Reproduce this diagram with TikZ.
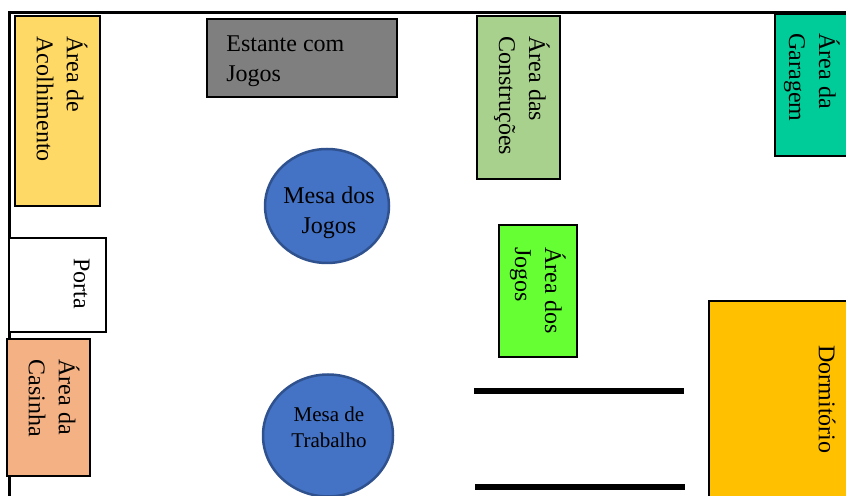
\documentclass[tikz,border=0pt]{standalone}
\usepackage{fontspec}
\setmainfont{Liberation Serif}
\definecolor{acolhimentofill}{HTML}{FFD966}
\definecolor{estantefill}{HTML}{7F7F7F}
\definecolor{mesafill}{HTML}{4472C4}
\definecolor{mesaline}{HTML}{2F528F}
\definecolor{construcoesfill}{HTML}{A9D18E}
\definecolor{garagemfill}{HTML}{00CC99}
\definecolor{jogosfill}{HTML}{66FF33}
\definecolor{casinhafill}{HTML}{F4B183}
\definecolor{dormitoriofill}{HTML}{FFC000}
\tikzset{l/.style={font=\fontsize{12}{15}\selectfont,align=left,inner sep=0pt}}
\tikzset{v/.style={l,rotate=-90,anchor=north west}}
\tikzset{areabox/.style={draw,line width=1pt,inner sep=0pt}}
\tikzset{mesa/.style={ellipse,draw=mesaline,fill=mesafill,line width=1.25pt,inner sep=0pt}}
\tikzset{wall/.style={line width=1.5pt}}
\tikzset{bar/.style={line width=3pt}}
\usetikzlibrary{shapes.geometric}
\begin{document}
\begin{tikzpicture}[x=0.5pt,y=-0.5pt]
          \useasboundingbox (0,0) rectangle (846,496);
          % walls
          \coordinate (wallA) at (9,496);
          \coordinate (wallB) at (9,12.5);
          \coordinate (wallC) at (846,12.5);
          \draw[wall] (wallA) -- (wallB) -- (wallC);
          % boxes
          \node[areabox,fill=acolhimentofill,minimum width=42.5pt,minimum height=95pt] (acolhimento) at (57,111) {};
          \node[v] (acolhimentotext) at (88,36) {Área de\\Acolhimento};
          \node[areabox,fill=estantefill,minimum width=95pt,minimum height=39pt] (estante) at (301.5,58) {};
          \node[l,anchor=north west] (estantetext) at (226,35) {Estante com\\Jogos};
          \node[areabox,fill=construcoesfill,minimum width=41.5pt,minimum height=81.5pt] (construcoes) at (518.5,97.5) {};
          \node[v] (construcoestext) at (550,36) {Área das\\Construções};
          \node[areabox,fill=garagemfill,minimum width=40pt,minimum height=71pt] (garagem) at (814.5,85) {};
          \node[v] (garagemtext) at (840,33) {Área da\\Garagem};
          \node[areabox,fill=jogosfill,minimum width=39pt,minimum height=66pt] (jogosarea) at (537.5,291) {};
          \node[v] (jogosareatext) at (566,247) {Área dos\\Jogos};
          \node[areabox,fill=white,minimum width=48.5pt,minimum height=47pt] (porta) at (57.5,285) {};
          \node[v] (portatext) at (90,258) {Porta};
          \node[areabox,fill=casinhafill,minimum width=41.5pt,minimum height=68.5pt] (casinha) at (48.5,407.5) {};
          \node[v] (casinhatext) at (80,359) {Área da\\Casinha};
          \node[areabox,fill=dormitoriofill,minimum width=71pt,minimum height=98pt] (dormitorio) at (779.5,399.5) {};
          \node[v] (dormitoriotext) at (836,345) {Dormitório};
          % tables
          \node[mesa,minimum width=62pt,minimum height=57pt] (mesajogos) at (327,206) {};
          \node[l,align=center,anchor=center] (mesajogostext) at (329,213) {Mesa dos\\Jogos};
          \node[mesa,minimum width=65pt,minimum height=61pt] (mesatrabalho) at (328,435.5) {};
          \node[l,align=center,anchor=center,font=\fontsize{10.5}{13}\selectfont] (mesatrabalhotext) at (329,427) {Mesa de\\Trabalho};
          % bars
          \coordinate (barA) at (474,391);
          \coordinate (barB) at (684,391);
          \coordinate (barC) at (475,487);
          \coordinate (barD) at (685,487);
          \draw[bar] (barA) -- (barB);
          \draw[bar] (barC) -- (barD);
        \end{tikzpicture}
\end{document}
